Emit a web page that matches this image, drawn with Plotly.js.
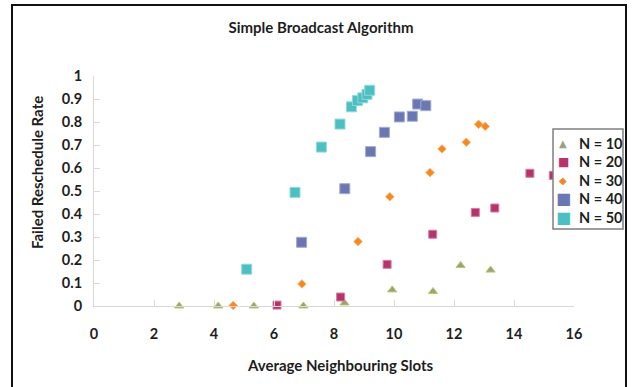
<!DOCTYPE html>
<html>
<head>
<meta charset="utf-8">
<script src="https://cdn.plot.ly/plotly-3.0.1.min.js"></script>
<style>
  html, body { margin: 0; padding: 0; background: #fff; }
  #chart { width: 633px; height: 387px; }
</style>
</head>
<body>
<div id="chart"></div>
<script>
// Failed reschedule rate vs. average neighbouring slots, one series per node count
const seriesNames = ['N = 10', 'N = 20', 'N = 30', 'N = 40', 'N = 50'];

const n10X = [2.84, 4.14, 5.33, 6.98, 8.35, 9.94, 11.30, 12.22, 13.22];
const n10Y = [0, 0, 0, 0, 0.013, 0.070, 0.063, 0.176, 0.156];

const n20X = [6.10, 8.22, 9.77, 11.29, 12.71, 13.36, 14.53, 15.31];
const n20Y = [0.004, 0.039, 0.181, 0.312, 0.407, 0.426, 0.577, 0.568];

const n30X = [4.64, 6.93, 8.80, 9.86, 11.20, 11.60, 12.41, 12.82, 13.04];
const n30Y = [0.002, 0.096, 0.280, 0.475, 0.580, 0.683, 0.712, 0.790, 0.781];

const n40X = [6.92, 8.36, 9.22, 9.68, 10.18, 10.61, 10.79, 11.06];
const n40Y = [0.277, 0.510, 0.671, 0.755, 0.822, 0.825, 0.878, 0.871];

const n50X = [5.09, 6.70, 7.58, 8.20, 8.58, 8.78, 8.96, 9.10, 9.19];
const n50Y = [0.160, 0.494, 0.691, 0.791, 0.866, 0.893, 0.905, 0.920, 0.938];

const xTicks = [0, 2, 4, 6, 8, 10, 12, 14, 16];
const yTicks = [0, 0.1, 0.2, 0.3, 0.4, 0.5, 0.6, 0.7, 0.8, 0.9, 1];

const FONT = 'Lato, "Open Sans", sans-serif';
const INK = '#1e1e1e';

// plot area in pixels
const L = 94, R = 574, T = 76, B = 306;
const px2x = p => (p - L) / (R - L);
const px2y = p => (B - p) / (B - T);

// marker styles per series, shared by the points and the key
const styles = [
  {symbol: 'triangle-up', size: 8, color: '#9c9e86', line: {color: '#b9cc5c', width: 1}, glyph: '\u25B2', glyphSize: 10},
  {symbol: 'square', size: 8, color: '#b8336c', line: {color: '#d27ea3', width: 1}, glyph: '\u25A0', glyphSize: 12},
  {symbol: 'diamond', size: 6.5, color: '#f5891f', line: {color: '#f9b06a', width: 1}, glyph: '\u25C6', glyphSize: 10},
  {symbol: 'square', size: 10, color: '#6a77b2', line: {color: '#a2aad2', width: 1}, glyph: '\u25A0', glyphSize: 16},
  {symbol: 'square', size: 10, color: '#4bbfc1', line: {color: '#93d9da', width: 1}, glyph: '\u25A0', glyphSize: 16}
];
const xs = [n10X, n20X, n30X, n40X, n50X];
const ys = [n10Y, n20Y, n30Y, n40Y, n50Y];

const data = seriesNames.map((name, i) => ({
  type: 'scatter', mode: 'markers', name: name,
  x: xs[i], y: ys[i], cliponaxis: false,
  marker: {symbol: styles[i].symbol, size: styles[i].size, color: styles[i].color, line: styles[i].line}
}));

const axisCommon = {
  showgrid: false, zeroline: false,
  showline: true, linecolor: '#d9d9d9', linewidth: 1,
  ticks: 'inside', ticklen: 6, tickcolor: '#d9d9d9', tickwidth: 1,
  tickfont: {family: FONT, size: 14.5, color: INK, weight: 'bold'},
  fixedrange: true, automargin: false
};

const titleFont = {family: FONT, size: 15, color: INK, weight: 'bold'};

// key: box, symbols and labels
const keyLeft = 553, keyRight = 623, keyTop = 129, keyBottom = 229;
const keyRows = [143, 161.5, 180, 198.5, 217];
const keyAnnotations = [];
seriesNames.forEach((name, i) => {
  keyAnnotations.push({
    text: styles[i].glyph, showarrow: false,
    xref: 'paper', yref: 'paper', x: px2x(563), y: px2y(keyRows[i]),
    xanchor: 'center', yanchor: 'middle',
    font: {family: 'DejaVu Sans', size: styles[i].glyphSize, color: styles[i].color}
  });
  keyAnnotations.push({
    text: name, showarrow: false,
    xref: 'paper', yref: 'paper', x: px2x(577), y: px2y(keyRows[i]),
    xanchor: 'left', yanchor: 'middle',
    font: {family: FONT, size: 14.5, color: INK, weight: 'bold'}
  });
});

const layout = {
  width: 633, height: 387,
  margin: {l: L, r: 633 - R, t: T, b: 387 - B, pad: 0, autoexpand: false},
  paper_bgcolor: '#fff', plot_bgcolor: '#fff',
  showlegend: false,
  title: {
    text: 'Simple Broadcast Algorithm',
    font: titleFont,
    x: 321 / 633, xanchor: 'center', y: 1 - 28 / 387, yanchor: 'middle'
  },
  xaxis: Object.assign({}, axisCommon, {
    range: [0, 16], tickvals: xTicks, ticktext: xTicks.map(String),
    ticklabelstandoff: 15
  }),
  yaxis: Object.assign({}, axisCommon, {
    range: [0, 1], tickvals: yTicks, ticktext: yTicks.map(v => String(v)),
    ticklabelstandoff: 8
  }),
  annotations: [
    {
      text: 'Average Neighbouring Slots', showarrow: false,
      xref: 'paper', yref: 'paper', x: px2x(340), y: px2y(365),
      xanchor: 'center', yanchor: 'middle', font: titleFont
    },
    {
      text: 'Failed Reschedule Rate', showarrow: false, textangle: -90,
      xref: 'paper', yref: 'paper', x: px2x(37), y: px2y(173),
      xanchor: 'center', yanchor: 'middle', font: titleFont
    }
  ].concat(keyAnnotations),
  shapes: [
    {
      type: 'rect', xref: 'paper', yref: 'paper', layer: 'above',
      x0: px2x(keyLeft), x1: px2x(keyRight), y0: px2y(keyTop), y1: px2y(keyBottom),
      line: {color: '#7f7f7f', width: 1.5}, fillcolor: '#fff'
    },
    {
      type: 'rect', xref: 'paper', yref: 'paper', layer: 'above',
      x0: px2x(12), x1: px2x(626), y0: px2y(5), y1: px2y(400),
      line: {color: '#111', width: 2}, fillcolor: 'rgba(0,0,0,0)'
    }
  ]
};

Plotly.newPlot('chart', data, layout, {displayModeBar: false, staticPlot: true});
</script>
</body>
</html>
